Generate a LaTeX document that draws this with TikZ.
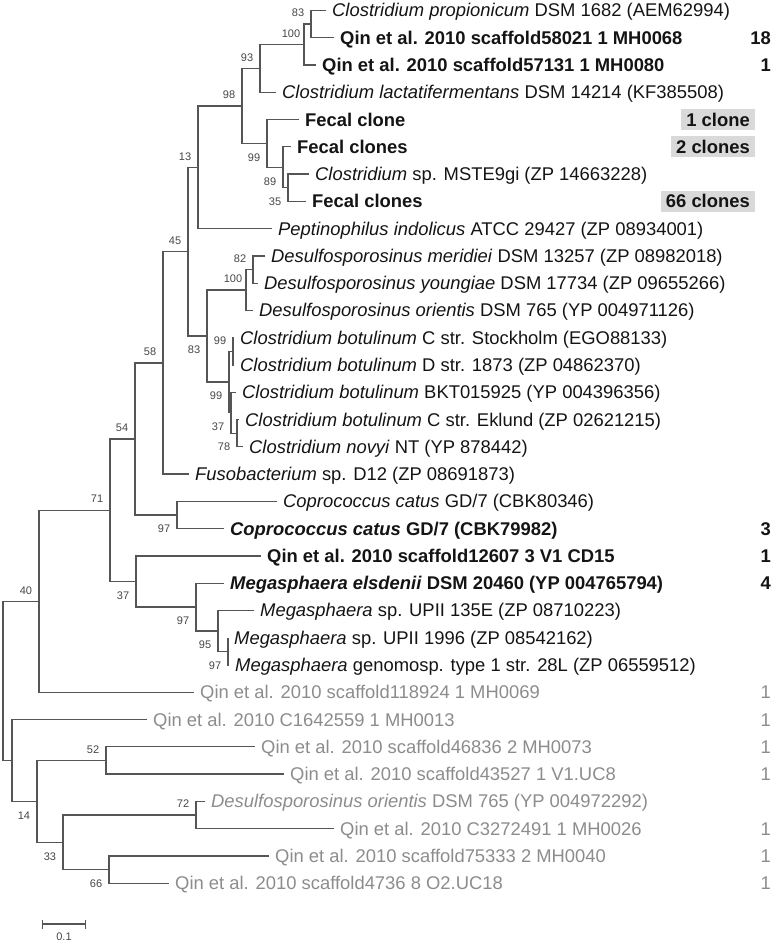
\documentclass[tikz,border=0pt]{standalone}
\usepackage{fontspec}
\setmainfont{Liberation Sans}
\usetikzlibrary{calc,arrows.meta}
\definecolor{branchgray}{RGB}{85,85,85}
\definecolor{bootgray}{RGB}{70,70,70}
\definecolor{leafblack}{RGB}{20,20,20}
\definecolor{leafgray}{RGB}{140,140,140}
\definecolor{boxgray}{RGB}{217,217,217}

\begin{document}
\begin{tikzpicture}[x=1pt,y=-27.27pt,
		branch/.style={draw=branchgray,line width=1.3pt},
		leaf/.style={anchor=west,inner xsep=6pt,inner ysep=0pt,text height=13pt,text depth=0pt,
			font=\fontsize{18.4}{20}\selectfont,text=leafblack},
		leafgrey/.style={leaf,text=leafgray},
		boot/.style={font=\fontsize{11}{12}\selectfont,text=bootgray,inner sep=0pt},
		bup/.style={boot,shift={(-13pt,11pt)}},
		bdn/.style={boot,shift={(-13pt,-14pt)}},
		count/.style={anchor=east,inner sep=0pt,text height=13pt,text depth=0pt,
			font=\fontsize{18.4}{20}\selectfont,text=leafblack},
		countgrey/.style={count,text=leafgray},
		clonebox/.style={anchor=east,fill=boxgray,inner xsep=5pt,inner ysep=4pt,text height=13pt,
			text depth=0pt,font=\fontsize{18.4}{20}\selectfont\bfseries,text=leafblack}]
	\useasboundingbox (0,-0.385) rectangle (772,34.195);

	% leaves
	\node[leaf] (l1) at (326,0) {\textit{Clostridium propionicum} DSM 1682 (AEM62994)};
	\node[leaf] (l2) at (334,1) {\textbf{Qin et al. 2010 scaffold58021 1 MH0068}};
	\node[leaf] (l3) at (316,2) {\textbf{Qin et al. 2010 scaffold57131 1 MH0080}};
	\node[leaf] (l4) at (276,3) {\textit{Clostridium lactatifermentans} DSM 14214 (KF385508)};
	\node[leaf] (l5) at (299,4) {\textbf{Fecal clone}};
	\node[leaf] (l6) at (291,5) {\textbf{Fecal clones}};
	\node[leaf] (l7) at (309,6) {\textit{Clostridium} sp. MSTE9gi (ZP 14663228)};
	\node[leaf] (l8) at (306,7) {\textbf{Fecal clones}};
	\node[leaf] (l9) at (272,8) {\textit{Peptinophilus indolicus} ATCC 29427 (ZP 08934001)};
	\node[leaf] (l10) at (265,9) {\textit{Desulfosporosinus meridiei} DSM 13257 (ZP 08982018)};
	\node[leaf] (l11) at (258,10) {\textit{Desulfosporosinus youngiae} DSM 17734 (ZP 09655266)};
	\node[leaf] (l12) at (253,11) {\textit{Desulfosporosinus orientis} DSM 765 (YP 004971126)};
	\node[leaf] (l13) at (234,12) {\textit{Clostridium botulinum} C str. Stockholm (EGO88133)};
	\node[leaf] (l14) at (234,13) {\textit{Clostridium botulinum} D str. 1873 (ZP 04862370)};
	\node[leaf] (l15) at (236,14) {\textit{Clostridium botulinum} BKT015925 (YP 004396356)};
	\node[leaf] (l16) at (239,15) {\textit{Clostridium botulinum} C str. Eklund (ZP 02621215)};
	\node[leaf] (l17) at (243,16) {\textit{Clostridium novyi} NT (YP 878442)};
	\node[leaf] (l18) at (189,17) {\textit{Fusobacterium} sp. D12 (ZP 08691873)};
	\node[leaf] (l19) at (277,18) {\textit{Coprococcus catus} GD/7 (CBK80346)};
	\node[leaf] (l20) at (224,19) {\textbf{\textit{Coprococcus catus} GD/7 (CBK79982)}};
	\node[leaf] (l21) at (261,20) {\textbf{Qin et al. 2010 scaffold12607 3 V1 CD15}};
	\node[leaf] (l22) at (224,21) {\textbf{\textit{Megasphaera elsdenii} DSM 20460 (YP 004765794)}};
	\node[leaf] (l23) at (254,22) {\textit{Megasphaera} sp. UPII 135E (ZP 08710223)};
	\node[leaf] (l24) at (228,23) {\textit{Megasphaera} sp. UPII 1996 (ZP 08542162)};
	\node[leaf] (l25) at (229,24) {\textit{Megasphaera} genomosp. type 1 str. 28L (ZP 06559512)};
	\node[leafgrey] (l26) at (194,25) {Qin et al. 2010 scaffold118924 1 MH0069};
	\node[leafgrey] (l27) at (147,26) {Qin et al. 2010 C1642559 1 MH0013};
	\node[leafgrey] (l28) at (255,27) {Qin et al. 2010 scaffold46836 2 MH0073};
	\node[leafgrey] (l29) at (284,28) {Qin et al. 2010 scaffold43527 1 V1.UC8};
	\node[leafgrey] (l30) at (205,29) {\textit{Desulfosporosinus orientis} DSM 765 (YP 004972292)};
	\node[leafgrey] (l31) at (334,30) {Qin et al. 2010 C3272491 1 MH0026};
	\node[leafgrey] (l32) at (269,31) {Qin et al. 2010 scaffold75333 2 MH0040};
	\node[leafgrey] (l33) at (169,32) {Qin et al. 2010 scaffold4736 8 O2.UC18};

	% internal nodes
	\coordinate (n83) at (311,0.5);
	\coordinate (n100a) at (304,1.25);
	\coordinate (n93) at (260,2.125);
	\coordinate (n35) at (288,6.5);
	\coordinate (n89) at (283,5.75);
	\coordinate (n99f) at (267,4.875);
	\coordinate (n98) at (242,3.5);
	\coordinate (n13) at (198,5.75);
	\coordinate (n82) at (253,9.5);
	\coordinate (n100d) at (246,10.25);
	\coordinate (nB) at (233,12.5);
	\coordinate (nD) at (237,15.5);
	\coordinate (nC) at (231,14.75);
	\coordinate (nA) at (229,13.625);
	\coordinate (n83d) at (207,11.9375);
	\coordinate (n45) at (188,8.8438);
	\coordinate (n58) at (163,12.9219);
	\coordinate (n97c) at (177,18.5);
	\coordinate (n54) at (135,15.7109);
	\coordinate (n97n) at (228,23.5);
	\coordinate (n95) at (218,22.75);
	\coordinate (n97m) at (196,21.875);
	\coordinate (n37m) at (136,20.9375);
	\coordinate (n71) at (110,18.3242);
	\coordinate (n40) at (39,21.6621);
	\coordinate (n52) at (106,27.5);
	\coordinate (n72) at (196,29.5);
	\coordinate (n66) at (109,31.5);
	\coordinate (n33) at (63,30.5);
	\coordinate (nX) at (37,29);
	\coordinate (n0) at (12,27.5);
	\coordinate (root) at (3,24.581);

	% branches
	\draw[branch] (l1) -| (n83) |- (l2);
	\draw[branch] (n83) -| (n100a) |- (l3);
	\draw[branch] (n100a) -| (n93) |- (l4);
	\draw[branch] (l7) -| (n35) |- (l8);
	\draw[branch] (l6) -| (n89) |- (n35);
	\draw[branch] (l5) -| (n99f) |- (n89);
	\draw[branch] (n93) -| (n98) |- (n99f);
	\draw[branch] (n98) -| (n13) |- (l9);
	\draw[branch] (l10) -| (n82) |- (l11);
	\draw[branch] (n82) -| (n100d) |- (l12);
	\draw[branch] (l13) -| (nB) |- (l14);
	\draw[branch] (l16) -| (nD) |- (l17);
	\draw[branch] (l15) -| (nC) |- (nD);
	\draw[branch] (nB) -| (nA) |- (nC);
	\draw[branch] (n100d) -| (n83d) |- (nA);
	\draw[branch] (n13) -| (n45) |- (n83d);
	\draw[branch] (n45) -| (n58) |- (l18);
	\draw[branch] (l19) -| (n97c) |- (l20);
	\draw[branch] (n58) -| (n54) |- (n97c);
	\draw[branch] (l24) -| (n97n) |- (l25);
	\draw[branch] (l23) -| (n95) |- (n97n);
	\draw[branch] (l22) -| (n97m) |- (n95);
	\draw[branch] (l21) -| (n37m) |- (n97m);
	\draw[branch] (n54) -| (n71) |- (n37m);
	\draw[branch] (n71) -| (n40) |- (l26);
	\draw[branch] (l28) -| (n52) |- (l29);
	\draw[branch] (l30) -| (n72) |- (l31);
	\draw[branch] (l32) -| (n66) |- (l33);
	\draw[branch] (n72) -| (n33) |- (n66);
	\draw[branch] (n52) -| (nX) |- (n33);
	\draw[branch] (l27) -| (n0) |- (nX);
	\draw[branch] (n40) -| (root) |- (n0);

	% bootstrap values
	\node[bup] (b83) at (n83) {83};
	\node[bup] (b100a) at (n100a) {100};
	\node[bup] (b93) at (n93) {93};
	\node[bup] (b98) at (n98) {98};
	\node[bdn] (b99f) at (n99f) {99};
	\node[bdn] (b89) at (n89) {89};
	\node[bdn] (b35) at (n35) {35};
	\node[bup] (b13) at (n13) {13};
	\node[bup] (b45) at (n45) {45};
	\node[bup] (b82) at (n82) {82};
	\node[bup] (b100d) at (n100d) {100};
	\node[bdn] (b83d) at (n83d) {83};
	\node[bup] (b99u) at (nB) {99};
	\node[bdn] (b99l) at (nA) {99};
	\node[bdn] (b37c) at (nC) {37};
	\node[bdn] (b78) at (nD) {78};
	\node[bup] (b58) at (n58) {58};
	\node[bup] (b54) at (n54) {54};
	\node[bdn] (b97c) at (n97c) {97};
	\node[bup] (b71) at (n71) {71};
	\node[bdn] (b37m) at (n37m) {37};
	\node[bdn] (b97m) at (n97m) {97};
	\node[bdn] (b95) at (n95) {95};
	\node[bdn] (b97n) at (n97n) {97};
	\node[bup] (b40) at (n40) {40};
	\node[bup] (b52) at (n52) {52};
	\node[bdn] (b14) at (nX) {14};
	\node[bup] (b72) at (n72) {72};
	\node[bdn] (b33) at (n33) {33};
	\node[bdn] (b66) at (n66) {66};

	% clone counts
	\node[clonebox] (c5) at (755,4) {1 clone};
	\node[clonebox] (c6) at (755,5) {2 clones};
	\node[clonebox] (c8) at (755,7) {66 clones};
	\node[count] (k2) at (771,1) {\textbf{18}};
	\node[count] (k3) at (771,2) {\textbf{1}};
	\node[count] (k20) at (771,19) {\textbf{3}};
	\node[count] (k21) at (771,20) {\textbf{1}};
	\node[count] (k22) at (771,21) {\textbf{4}};
	\node[countgrey] (k26) at (771,25) {1};
	\node[countgrey] (k27) at (771,26) {1};
	\node[countgrey] (k28) at (771,27) {1};
	\node[countgrey] (k29) at (771,28) {1};
	\node[countgrey] (k31) at (771,30) {1};
	\node[countgrey] (k32) at (771,31) {1};
	\node[countgrey] (k33) at (771,32) {1};

	% scale bar
	\coordinate (sb0) at (42,33.5);
	\coordinate (sb1) at (86,33.5);
	\draw[branch,{Bar[width=9pt]}-{Bar[width=9pt]}] (sb0) -- (sb1);
	\node[boot,yshift=-13pt] (sbl) at ($(sb0)!0.5!(sb1)$) {0.1};
\end{tikzpicture}
\end{document}
